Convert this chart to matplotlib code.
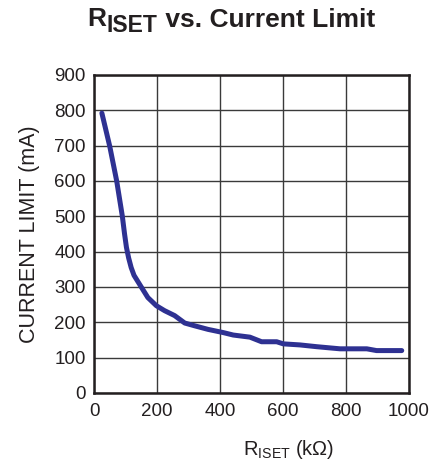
import matplotlib as mpl
import matplotlib.pyplot as plt

mpl.rcParams.update(
    {
        "font.family": ["Liberation Sans", "DejaVu Sans"],
        "mathtext.fontset": "custom",
        "mathtext.rm": "Liberation Sans",
        "mathtext.it": "Liberation Sans",
        "mathtext.bf": "Liberation Sans:bold",
    }
)

# R_ISET (kΩ) vs current limit (mA)
r_iset = [25, 50, 72, 90, 97, 103, 110, 118, 127, 150, 171, 198, 224, 256, 288, 320, 362, 410,
          442, 495, 532, 580, 601, 654, 707, 781, 866, 897, 977]
i_limit = [792, 698, 600, 500, 450, 412, 382, 355, 333, 300, 270, 247, 233, 219, 198, 190, 180, 171,
           164, 158, 145, 145, 139, 136, 131, 125, 125, 120, 120]

x_ticks = [0, 200, 400, 600, 800, 1000]
y_ticks = list(range(0, 901, 100))

TXT = "#231f20"

fig = plt.figure(figsize=(4.43, 4.68), dpi=100)
ax = fig.add_axes([0.2122, 0.1603, 0.711, 0.6795])

ax.plot(r_iset, i_limit, color="#2e3192", lw=3.6, solid_capstyle="round", solid_joinstyle="round")
ax.set_xlim(0, 1000)
ax.set_ylim(0, 900)
ax.set_xticks(x_ticks)
ax.set_yticks(y_ticks)
ax.grid(True, color="#3a3a3a", lw=1.0)
ax.set_axisbelow(True)
ax.tick_params(length=0, labelsize=13.5, colors=TXT)
ax.tick_params(axis="y", pad=6)
ax.tick_params(axis="x", pad=7)
for sp in ax.spines.values():
    sp.set_linewidth(1.8)
    sp.set_color(TXT)

ax.set_ylabel("CURRENT LIMIT (mA)", fontsize=15.5, color=TXT)
ax.yaxis.set_label_coords(-0.172, 0.5)

fig.text(243 / 443, 1 - 455 / 468, r"R$_{\rm ISET}$ (k$\Omega$)", ha="left", va="baseline",
         fontsize=14.5, color=TXT)

# title with a large subscript, built from pieces
t1 = fig.text(87 / 443, 1 - 26 / 468, "R", ha="left", va="baseline",
              fontsize=19, fontweight="bold", color=TXT)
t2 = ax.annotate("ISET", xy=(1, 0), xycoords=t1, xytext=(0.5, -4.5), textcoords="offset points",
                 ha="left", va="bottom", fontsize=16.5, fontweight="bold", color=TXT)
t3 = ax.annotate(" vs. Current Limit", xy=(1, 0), xycoords=t2, xytext=(0, 4.0),
                 textcoords="offset points", ha="left", va="bottom",
                 fontsize=19, fontweight="bold", color=TXT)

fig.savefig("out.png", dpi=100)
